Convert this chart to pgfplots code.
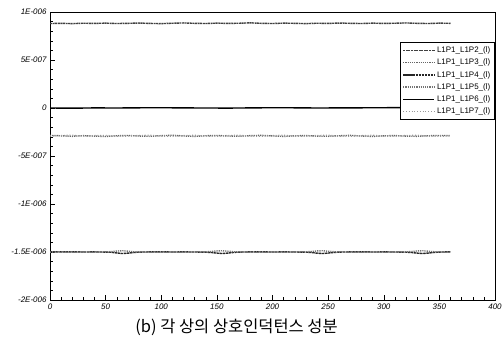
\documentclass[border=0pt]{standalone}
\usepackage{fontspec}
\setmainfont{Liberation Sans}
\newfontfamily\kr{Noto Sans CJK KR}
\usepackage{pgfplots}
\pgfplotsset{compat=1.18}
\begin{document}
\begin{tikzpicture}
\begin{axis}[
  name=ax,
  width=445bp, height=288bp, scale only axis,
  xmin=0, xmax=400, ymin=-2e-6, ymax=1e-6,
  xtick={0,50,...,400}, minor x tick num=4,
  ytick={-2e-6,-1.5e-6,-1e-6,-5e-7,0,5e-7,1e-6},
  yticklabels={-2E-006,-1.5E-006,-1E-006,-5E-007,0,5E-007,1E-006},
  minor y tick num=4,
  scaled y ticks=false,
  tick pos=left, tick align=inside,
  major tick length=5bp, minor tick length=3bp,
  tick style={black, line width=0.5pt},
  axis line style={line width=0.7pt},
  tick label style={font=\fontsize{8}{9}\selectfont\itshape},
  /pgf/number format/assume math mode=true,
  legend style={at={(rel axis cs:1,0.896)}, anchor=north east,
    font=\fontsize{8}{9}\selectfont, draw=black, line width=0.6pt,
    row sep=1pt, inner sep=2.5pt},
  legend image code/.code={\draw[#1] (0cm,0cm) -- (1.1cm,0cm);},
  legend cell align=left,
  every axis plot/.append style={line width=1.4pt},
]
% L1P1_L1P2 : top level
\addplot[black!75, dash pattern=on 2pt off 0.6pt] coordinates {
(0,8.80e-7)(10,8.82e-7)(20,8.79e-7)(30,8.83e-7)(40,8.81e-7)(50,8.84e-7)(60,8.80e-7)(70,8.82e-7)(80,8.85e-7)(90,8.81e-7)
(100,8.79e-7)(110,8.83e-7)(120,8.86e-7)(130,8.82e-7)(140,8.80e-7)(150,8.84e-7)(160,8.81e-7)(170,8.83e-7)(180,8.87e-7)(190,8.82e-7)
(200,8.80e-7)(210,8.84e-7)(220,8.82e-7)(230,8.79e-7)(240,8.83e-7)(250,8.81e-7)(260,8.85e-7)(270,8.82e-7)(280,8.80e-7)(290,8.84e-7)
(300,8.81e-7)(310,8.83e-7)(320,8.86e-7)(330,8.82e-7)(340,8.80e-7)(350,8.84e-7)(360,8.82e-7)};
\addlegendentry{L1P1\_L1P2\_(l)}
% L1P1_L1P3 : -2.9e-7
\addplot[black!60, dash pattern=on 1.2pt off 1pt] coordinates {
(0,-2.85e-7)(10,-2.90e-7)(20,-2.95e-7)(30,-2.88e-7)(40,-2.93e-7)(50,-2.97e-7)(60,-2.89e-7)(70,-2.86e-7)(80,-2.92e-7)(90,-2.95e-7)
(100,-2.88e-7)(110,-2.84e-7)(120,-2.91e-7)(130,-2.96e-7)(140,-2.89e-7)(150,-2.86e-7)(160,-2.92e-7)(170,-2.94e-7)(180,-2.88e-7)(190,-2.85e-7)
(200,-2.91e-7)(210,-2.96e-7)(220,-2.90e-7)(230,-2.87e-7)(240,-2.93e-7)(250,-2.95e-7)(260,-2.89e-7)(270,-2.85e-7)(280,-2.92e-7)(290,-2.96e-7)
(300,-2.90e-7)(310,-2.87e-7)(320,-2.93e-7)(330,-2.95e-7)(340,-2.89e-7)(350,-2.86e-7)(360,-2.88e-7)};
\addlegendentry{L1P1\_L1P3\_(l)}
% L1P1_L1P4 : -1.5e-6 with wobbles
\addplot[black!85, dash pattern=on 2.5pt off 0.6pt] coordinates {
(0,-1.497e-6)(10,-1.499e-6)(20,-1.498e-6)(30,-1.500e-6)(40,-1.499e-6)(50,-1.501e-6)(55,-1.503e-6)(60,-1.510e-6)(65,-1.516e-6)(70,-1.512e-6)(75,-1.506e-6)(80,-1.501e-6)
(90,-1.499e-6)(100,-1.498e-6)(110,-1.500e-6)(120,-1.499e-6)(130,-1.500e-6)(140,-1.502e-6)(145,-1.505e-6)(150,-1.512e-6)(155,-1.516e-6)(160,-1.511e-6)(165,-1.505e-6)(170,-1.501e-6)
(180,-1.499e-6)(190,-1.498e-6)(200,-1.500e-6)(210,-1.499e-6)(220,-1.500e-6)(230,-1.502e-6)(235,-1.505e-6)(240,-1.512e-6)(245,-1.516e-6)(250,-1.511e-6)(255,-1.505e-6)(260,-1.501e-6)
(270,-1.499e-6)(280,-1.498e-6)(290,-1.500e-6)(300,-1.499e-6)(310,-1.500e-6)(320,-1.502e-6)(325,-1.505e-6)(330,-1.512e-6)(335,-1.516e-6)(340,-1.511e-6)(345,-1.505e-6)(350,-1.501e-6)(360,-1.498e-6)};
\addlegendentry{L1P1\_L1P4\_(l)}
% L1P1_L1P5 : -1.5e-6 with opposite wobbles
\addplot[black!55, dash pattern=on 1.2pt off 1pt] coordinates {
(0,-1.501e-6)(10,-1.500e-6)(20,-1.502e-6)(30,-1.499e-6)(40,-1.501e-6)(50,-1.499e-6)(55,-1.496e-6)(60,-1.490e-6)(65,-1.487e-6)(70,-1.491e-6)(75,-1.497e-6)(80,-1.500e-6)
(90,-1.501e-6)(100,-1.502e-6)(110,-1.500e-6)(120,-1.501e-6)(130,-1.499e-6)(140,-1.498e-6)(145,-1.495e-6)(150,-1.489e-6)(155,-1.487e-6)(160,-1.492e-6)(165,-1.497e-6)(170,-1.500e-6)
(180,-1.501e-6)(190,-1.502e-6)(200,-1.500e-6)(210,-1.501e-6)(220,-1.499e-6)(230,-1.498e-6)(235,-1.495e-6)(240,-1.489e-6)(245,-1.487e-6)(250,-1.492e-6)(255,-1.497e-6)(260,-1.500e-6)
(270,-1.501e-6)(280,-1.502e-6)(290,-1.500e-6)(300,-1.501e-6)(310,-1.499e-6)(320,-1.498e-6)(325,-1.495e-6)(330,-1.489e-6)(335,-1.487e-6)(340,-1.492e-6)(345,-1.497e-6)(350,-1.500e-6)(360,-1.502e-6)};
\addlegendentry{L1P1\_L1P5\_(l)}
% L1P1_L1P6 : ~0
\addplot[black] coordinates {
(0,0)(20,-0.2e-8)(40,0.1e-8)(60,0)(80,0.2e-8)(100,0.3e-8)(120,0.1e-8)(140,0)(160,-0.1e-8)(180,0.1e-8)
(200,0.3e-8)(220,0.2e-8)(240,0)(260,0.1e-8)(280,0.2e-8)(300,0.3e-8)(320,0.4e-8)(340,0.1e-8)(360,0)};
\addlegendentry{L1P1\_L1P6\_(l)}
% L1P1_L1P7 : -2.9e-7 lighter
\addplot[black!40, dash pattern=on 1pt off 1.8pt] coordinates {
(0,-2.92e-7)(10,-2.87e-7)(20,-2.84e-7)(30,-2.93e-7)(40,-2.88e-7)(50,-2.86e-7)(60,-2.94e-7)(70,-2.92e-7)(80,-2.87e-7)(90,-2.84e-7)
(100,-2.93e-7)(110,-2.95e-7)(120,-2.88e-7)(130,-2.85e-7)(140,-2.92e-7)(150,-2.94e-7)(160,-2.87e-7)(170,-2.85e-7)(180,-2.93e-7)(190,-2.95e-7)
(200,-2.87e-7)(210,-2.85e-7)(220,-2.92e-7)(230,-2.94e-7)(240,-2.87e-7)(250,-2.84e-7)(260,-2.93e-7)(270,-2.95e-7)(280,-2.88e-7)(290,-2.85e-7)
(300,-2.92e-7)(310,-2.94e-7)(320,-2.87e-7)(330,-2.85e-7)(340,-2.93e-7)(350,-2.94e-7)(360,-2.90e-7)};
\addlegendentry{L1P1\_L1P7\_(l)}
\end{axis}
\node[font=\kr\fontsize{16.5}{18}\selectfont, anchor=north, inner sep=0pt] at ([yshift=-19bp, xshift=-36bp]ax.south) {(b) 각 상의 상호인덕턴스 성분};
\pgfresetboundingbox
\path[use as bounding box] ([xshift=-50bp,yshift=12bp]ax.north west) rectangle ([xshift=8bp,yshift=-42bp]ax.south east);
\end{tikzpicture}
\end{document}
